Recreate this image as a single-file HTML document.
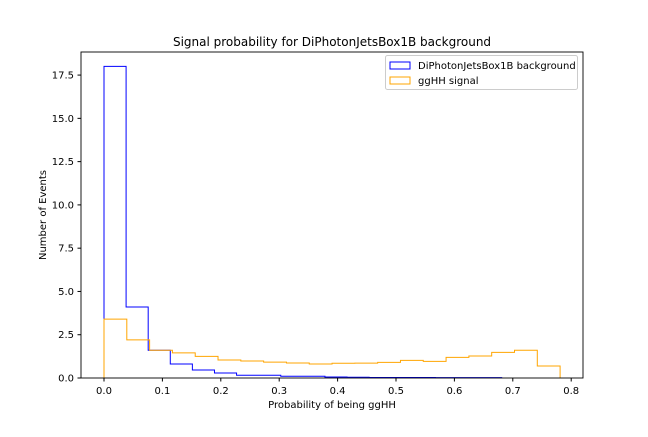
<!DOCTYPE html>
<html><head><meta charset="utf-8"><style>
body{margin:0;background:#fff;}
text{font-family:"DejaVu Sans","Liberation Sans",sans-serif;}
</style></head><body>
<svg id="chart" width="648" height="432" xmlns="http://www.w3.org/2000/svg">
<rect width="648" height="432" fill="#fff"/>
<text x="332" y="46" text-anchor="middle" font-size="12">Signal probability for DiPhotonJetsBox1B background</text>
<g id="plot"></g>
<rect x="81" y="52" width="502" height="326" fill="none" stroke="#000" stroke-width="0.9"/>
<text x="332" y="408" text-anchor="middle" font-size="10">Probability of being ggHH</text>
<text transform="translate(46,215) rotate(-90)" text-anchor="middle" font-size="10">Number of Events</text>
<g>
<rect x="385.5" y="55.5" width="192" height="34" rx="2" fill="#fff" stroke="#ccc"/>
<rect x="390" y="62" width="20" height="7" fill="none" stroke="#00f"/>
<text x="418" y="69" font-size="10">DiPhotonJetsBox1B background</text>
<rect x="390" y="77" width="20" height="7" fill="none" stroke="orange"/>
<text x="418" y="84" font-size="10">ggHH signal</text>
</g>
</svg>
<script>
const bgValues=[18.0,4.1,1.6,0.81,0.46,0.29,0.16,0.16,0.1,0.1,0.06,0.04,0.03,0.03,0.03,0.02,0.02,0.02];
const bgRange=[0,0.681];
const sigValues=[3.4,2.2,1.6,1.45,1.25,1.04,0.98,0.92,0.87,0.81,0.85,0.86,0.9,1.02,0.96,1.19,1.27,1.48,1.6,0.69];
const sigRange=[0,0.781];
const xTicks=[0,0.1,0.2,0.3,0.4,0.5,0.6,0.7,0.8];
const yTicks=[0,2.5,5,7.5,10,12.5,15,17.5];
const NS="http://www.w3.org/2000/svg";
const X=v=>104+v*584;
const Y=v=>378-v*17.31;
const g=document.getElementById('plot');
function mk(t,a){const e=document.createElementNS(NS,t);for(const k in a)e.setAttribute(k,a[k]);return e;}
function hist(vals,range,color,name){
  const w=(range[1]-range[0])/vals.length;
  let d="M"+X(range[0])+","+Y(0);
  vals.forEach((v,i)=>{d+=" L"+X(range[0]+i*w)+","+Y(v)+" L"+X(range[0]+(i+1)*w)+","+Y(v);});
  d+=" L"+X(range[1])+","+Y(0);
  const p=mk('path',{d:d,fill:'none',stroke:color,'stroke-width':1});
  
  
  g.appendChild(p);
}
hist(bgValues,bgRange,'#00f','background-histogram');
hist(sigValues,sigRange,'orange','signal-histogram');
xTicks.forEach(t=>{
  const l=mk('line',{x1:X(t),x2:X(t),y1:378,y2:381.5,stroke:'#000'});
  
  
  g.appendChild(l);
  const tx=mk('text',{x:X(t),y:394,'text-anchor':'middle','font-size':10});
  
  
  tx.textContent=t.toFixed(1);g.appendChild(tx);
});
yTicks.forEach(t=>{
  const l=mk('line',{x1:77.5,x2:81,y1:Y(t),y2:Y(t),stroke:'#000'});
  
  
  g.appendChild(l);
  const tx=mk('text',{x:74,y:Y(t)+3.5,'text-anchor':'end','font-size':10});
  
  
  tx.textContent=t.toFixed(1);g.appendChild(tx);
});
</script>
</body></html>
